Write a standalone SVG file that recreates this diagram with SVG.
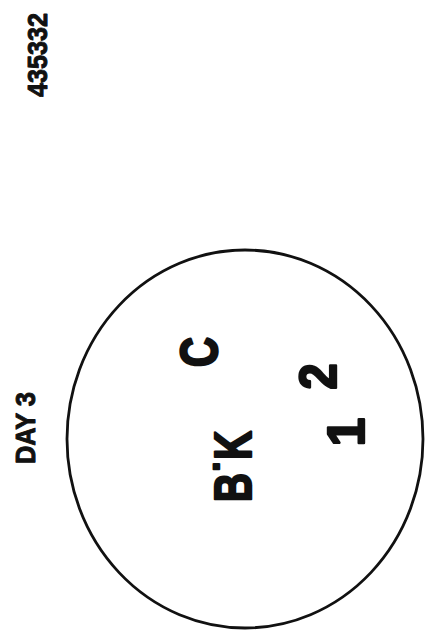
<svg xmlns="http://www.w3.org/2000/svg" width="425" height="632" viewBox="0 0 425 632">
  <style>
    .lbl { font-family: "Liberation Sans", Arial, sans-serif; font-weight: bold; fill: #111; stroke: #111; stroke-linejoin: round; text-anchor: middle; }
    .sm { font-size: 27px; stroke-width: 1; }
    .big { font-size: 51px; stroke-width: 2.4; }
  </style>
  <rect width="425" height="632" fill="#ffffff"/>
  <g id="plate">
    <ellipse cx="245" cy="439" rx="178" ry="189" fill="none" stroke="#111" stroke-width="2.8"/>
  </g>
  <g id="id-number">
    <text class="lbl sm" transform="translate(46.5,55) rotate(-90)" textLength="84" lengthAdjust="spacingAndGlyphs">435332</text>
  </g>
  <g id="day-label">
    <text class="lbl sm" transform="translate(34.5,428) rotate(-90)" textLength="72" lengthAdjust="spacingAndGlyphs">DAY 3</text>
  </g>
  <g id="spot-C">
    <text class="lbl big" transform="translate(217,352) rotate(-90)" textLength="30" lengthAdjust="spacingAndGlyphs">C</text>
  </g>
  <g id="spot-BK">
    <text class="lbl big" transform="translate(250.5,466.5) rotate(-90)" textLength="71" lengthAdjust="spacingAndGlyphs">B˙K</text>
  </g>
  <g id="spot-2">
    <text class="lbl big" transform="translate(336,376.5) rotate(-90)" textLength="26" lengthAdjust="spacingAndGlyphs">2</text>
  </g>
  <g id="spot-1">
    <text class="lbl big" transform="translate(364,432) rotate(-90)">1</text>
  </g>
</svg>
